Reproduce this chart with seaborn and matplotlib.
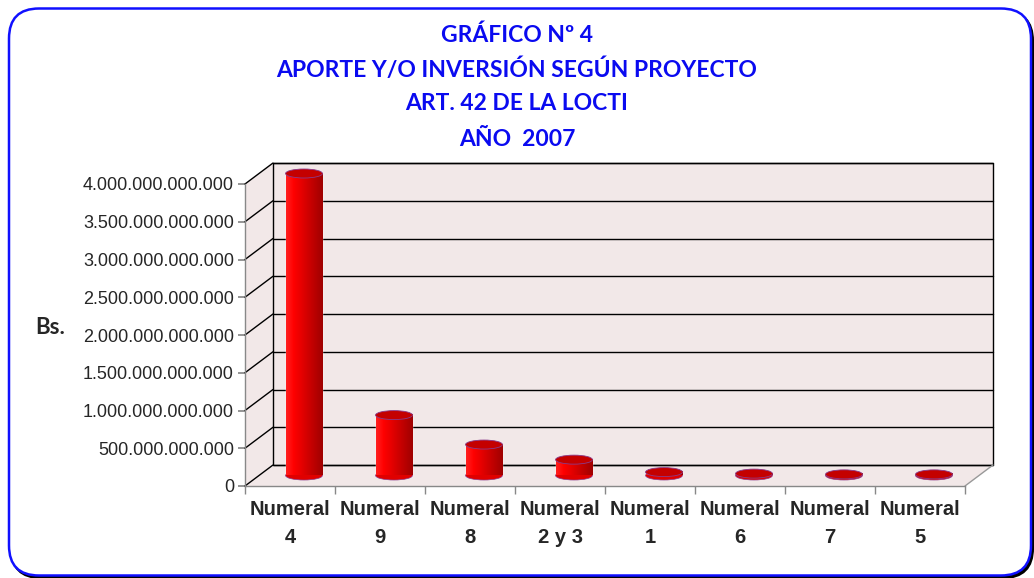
import numpy as np
import matplotlib.pyplot as plt
import seaborn as sns
from matplotlib.patches import Rectangle, Polygon, Ellipse, FancyBboxPatch
from matplotlib.colors import LinearSegmentedColormap

# datos
categorias = ["Numeral\n4", "Numeral\n9", "Numeral\n8", "Numeral\n2 y 3",
              "Numeral\n1", "Numeral\n6", "Numeral\n7", "Numeral\n5"]
montos = [4.0e12, 0.80e12, 0.41e12, 0.21e12, 0.045e12, 0.025e12, 0.015e12, 0.015e12]
titulo = ["GRÁFICO Nº 4", "APORTE Y/O INVERSIÓN SEGÚN PROYECTO",
          "ART. 42 DE LA LOCTI", "AÑO  2007"]
ticks_y = [0, 5e11, 1e12, 1.5e12, 2e12, 2.5e12, 3e12, 3.5e12, 4e12]

sns.set_theme(style="white")
plt.rcParams["font.family"] = ["Liberation Sans", "DejaVu Sans"]

W, H = 1034, 578
fig = plt.figure(figsize=(W / 100, H / 100), dpi=100)
ax = fig.add_axes([245 / W, (H - 486) / H, 720 / W, 302 / H])
ax.set_facecolor("none")

YMAX = 4.0e12
x0, x1 = -0.5, 7.5
px_x = (x1 - x0) / 720
px_y = YMAX / 302
dx, dy = 28 * px_x, 21 * px_y
pared = "#f2e8e8"

# barras
sns.barplot(x=categorias, y=montos, color="red", saturation=1, width=0.41, ax=ax, zorder=2)
barras = list(ax.containers[0])

cmap = LinearSegmentedColormap.from_list(
    "cil", ["#ff2020", "#ff0000", "#e80000", "#d00000", "#b80000", "#a00000"])
grad = np.linspace(0, 1, 64).reshape(1, -1)
eh = 9 * px_y
for p in barras:
    bx = p.get_x() + dx / 2
    w = p.get_width()
    h = p.get_height()
    p.set_x(bx)
    p.set_y(dy / 2)
    p.set_clip_on(False)
    ax.imshow(grad, extent=[bx, bx + w, dy / 2, dy / 2 + h], aspect="auto",
              cmap=cmap, zorder=2.1, clip_on=False)
    ax.add_patch(Ellipse((bx + w / 2, dy / 2), w, eh, facecolor="#e00000",
                         edgecolor="#8a3a8a", lw=0.5, zorder=2.0, clip_on=False))
    ax.add_patch(Ellipse((bx + w / 2, dy / 2 + h), w, eh, facecolor="#c40000",
                         edgecolor="#8a3a8a", lw=0.6, zorder=2.3, clip_on=False))

# paredes 3D
ax.add_patch(Rectangle((x0 + dx, dy), x1 - x0, YMAX, facecolor=pared,
                       edgecolor="black", lw=1, zorder=0.5, clip_on=False))
ax.add_patch(Polygon([(x0, 0), (x0 + dx, dy), (x0 + dx, YMAX + dy), (x0, YMAX)],
                     closed=True, facecolor=pared, edgecolor="none", zorder=0.4, clip_on=False))
ax.add_patch(Polygon([(x0, 0), (x1, 0), (x1 + dx, dy), (x0 + dx, dy)],
                     closed=True, facecolor=pared, edgecolor="none", zorder=0.4, clip_on=False))
for v in ticks_y:
    ax.plot([x0 + dx, x1 + dx], [v + dy, v + dy], color="black", lw=1, zorder=0.6, clip_on=False)
    ax.plot([x0, x0 + dx], [v, v + dy], color="black", lw=1, zorder=0.6, clip_on=False)
ax.plot([x1, x1 + dx], [0, dy], color="#999999", lw=1, zorder=0.6, clip_on=False)

ax.set_xlim(x0, x1)
ax.set_ylim(0, YMAX)
ax.set_xlabel("")
ax.set_ylabel("")

ax.set_yticks(ticks_y)
ax.set_yticklabels([f"{int(v):,}".replace(",", ".") for v in ticks_y], fontsize=13)
ax.tick_params(axis="y", left=True, length=5, color="#888888", pad=3)

ax.set_xticks(range(len(categorias)))
ax.set_xticklabels(categorias, fontsize=14.5, fontweight="bold", linespacing=1.6,
                   family=["Liberation Sans Narrow", "Liberation Sans"])
ax.set_xticks(np.arange(x0, x1 + 0.1, 1), minor=True)
ax.tick_params(axis="x", which="major", length=0, pad=10)
ax.tick_params(axis="x", which="minor", bottom=True, length=6, color="#888888")

for s in ["top", "right"]:
    ax.spines[s].set_visible(False)
for s in ["left", "bottom"]:
    ax.spines[s].set_color("#888888")
    ax.spines[s].set_linewidth(1)

# titulo
for y, linea in zip([35, 70, 104, 139], titulo):
    fig.text(0.5, 1 - y / H, linea, ha="center", va="center", color="#0a0af0",
             fontsize=16.5, fontweight="bold", family=["Lato", "DejaVu Sans"])
fig.text(50 / W, 1 - 328 / H, "Bs.", ha="center", va="center", fontsize=16,
         fontweight="bold", family=["Lato", "DejaVu Sans"])

# marco redondeado con sombra
sombra = FancyBboxPatch((0.11, 0.0), 10.22, 5.67, boxstyle="round,pad=0,rounding_size=0.3",
                        transform=fig.dpi_scale_trans, facecolor="black", edgecolor="black",
                        lw=1.5, zorder=-2)
marco = FancyBboxPatch((0.09, 0.025), 10.22, 5.67, boxstyle="round,pad=0,rounding_size=0.3",
                       transform=fig.dpi_scale_trans, facecolor="white", edgecolor="#1010ff",
                       lw=1.8, zorder=-1)
fig.add_artist(sombra)
fig.add_artist(marco)

fig.savefig("out.png", dpi=100)
